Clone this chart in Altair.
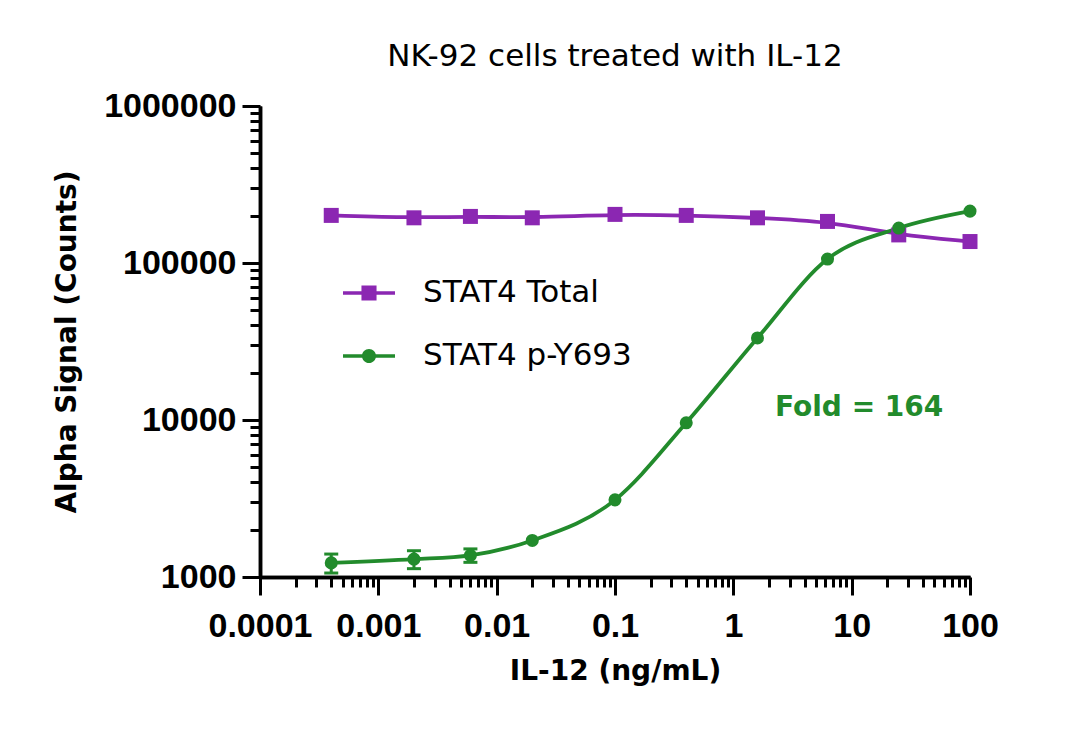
import altair as alt
import pandas as pd

# ---- data ----
conc = [0.0004, 0.002, 0.006, 0.02, 0.1, 0.4, 1.6, 6.25, 25, 100]
total = [201000, 194000, 198000, 194000, 204000, 201000, 194000, 184000, 151000, 137000]
phos = [1230, 1300, 1375, 1710, 3100, 9600, 33300, 106000, 167000, 214000]
phos_err = [170, 170, 135, 0, 0, 0, 0, 0, 0, 0]
series = ["STAT4 Total", "STAT4 p-Y693"]
colors = ["#8B27B2", "#228B2C"]
x_major = [1e-4, 1e-3, 1e-2, 1e-1, 1, 10, 100]
y_major = [1e3, 1e4, 1e5, 1e6]
fold_label = ["Fold = 164"]
fold_pos_x = [2.25]
fold_pos_y = [12000]

x_minor = [m * d for d in x_major[:-1] for m in range(2, 10)]
y_minor = [m * d for d in y_major[:-1] for m in range(2, 10)]

df_total = pd.DataFrame({"conc": conc, "signal": total, "series": series[0]})
df_phos = pd.DataFrame({"conc": conc, "signal": phos, "series": series[1],
                        "lo": [v - e for v, e in zip(phos, phos_err)],
                        "hi": [v + e for v, e in zip(phos, phos_err)],
                        "err": phos_err})
df_all = pd.concat([df_total, df_phos[["conc", "signal", "series"]]])
df_fold = pd.DataFrame({"x": fold_pos_x, "y": fold_pos_y, "t": fold_label})

TXT = "DejaVu Sans"
NUM = "Liberation Sans"
W = 710
H = 471

xs = alt.Scale(type="log", domain=[1e-4, 100], nice=False)
ys = alt.Scale(type="log", domain=[1e3, 1e6], nice=False)

x_major_axis = alt.Axis(orient="bottom", values=x_major, format="~g", tickSize=18, tickWidth=3,
                        tickColor="black", domainColor="black", domainWidth=3.5, grid=False,
                        labelFont=NUM, labelFontSize=34, labelFontWeight="bold", labelColor="black",
                        labelPadding=14, labelFlush=False, labelOverlap=False,
                        title="IL-12 (ng/mL)", titleFont=TXT, titleFontSize=28,
                        titleFontWeight="bold", titleColor="black", titlePadding=14)
x_minor_axis = alt.Axis(orient="bottom", values=x_minor, labels=False, tickSize=10, tickWidth=3,
                        tickColor="black", domainColor="black", domainWidth=3.5, grid=False,
                        title=None)
y_major_axis = alt.Axis(orient="left", values=y_major, format="d", tickSize=18, tickWidth=3,
                        tickColor="black", domainColor="black", domainWidth=3.5, grid=False,
                        labelFont=NUM, labelFontSize=34, labelFontWeight="bold", labelColor="black",
                        labelPadding=6, labelFlush=False, labelOverlap=False,
                        title="Alpha Signal (Counts)", titleFont=TXT, titleFontSize=28,
                        titleFontWeight="bold", titleColor="black", titlePadding=22)
y_minor_axis = alt.Axis(orient="left", values=y_minor, labels=False, tickSize=10, tickWidth=3,
                        tickColor="black", domainColor="black", domainWidth=3.5, grid=False,
                        title=None)

base_total = alt.Chart(df_total)
base_phos = alt.Chart(df_phos)

line_total = base_total.mark_line(interpolate="basis", strokeWidth=3.8, color=colors[0]).encode(
    x=alt.X("conc:Q", scale=xs, axis=x_major_axis),
    y=alt.Y("signal:Q", scale=ys, axis=y_major_axis),
)
line_phos = base_phos.mark_line(interpolate="monotone", strokeWidth=3.8, color=colors[1]).encode(
    x=alt.X("conc:Q", scale=xs, axis=x_minor_axis),
    y=alt.Y("signal:Q", scale=ys, axis=y_minor_axis),
)
pts_total = base_total.mark_point(shape="square", filled=True, size=225, opacity=1,
                                  color=colors[0]).encode(
    x=alt.X("conc:Q", scale=xs, axis=None),
    y=alt.Y("signal:Q", scale=ys, axis=None),
)
err_phos = base_phos.transform_filter("datum.err > 0").mark_errorbar(
    ticks={"size": 14, "thickness": 3, "color": colors[1], "opacity": 1},
    rule={"strokeWidth": 3, "color": colors[1], "opacity": 1}, color=colors[1], opacity=1).encode(
    x=alt.X("conc:Q", scale=xs, axis=None),
    y=alt.Y("lo:Q", scale=ys, axis=None),
    y2="hi:Q",
)
pts_phos = base_phos.mark_point(shape="circle", filled=True, size=170, opacity=1,
                                color=colors[1]).encode(
    x=alt.X("conc:Q", scale=xs, axis=None),
    y=alt.Y("signal:Q", scale=ys, axis=None),
)

sq_path = "M-1,-0.07H1V0.07H-1Z M-0.29,-0.29H0.29V0.29H-0.29Z"
ci_path = "M-1,-0.07H1V0.07H-1Z M-0.27,0A0.27,0.27 0 1,1 0.27,0A0.27,0.27 0 1,1 -0.27,0Z"
leg = alt.Legend(title=None, orient="none", legendX=83, legendY=161, symbolSize=2704,
                 symbolStrokeWidth=0, labelFont=TXT, labelFontSize=31, labelColor="black",
                 labelOffset=28, rowPadding=22, symbolOpacity=1, labelLimit=0)
legend_layer = alt.Chart(df_all).mark_point(filled=True, size=0, opacity=1).encode(
    x=alt.X("conc:Q", scale=xs, axis=None),
    y=alt.Y("signal:Q", scale=ys, axis=None),
    color=alt.Color("series:N", scale=alt.Scale(domain=series, range=colors), legend=leg),
    shape=alt.Shape("series:N", scale=alt.Scale(domain=series, range=[sq_path, ci_path]), legend=leg),
)

fold = alt.Chart(df_fold).mark_text(font=TXT, fontSize=28, fontWeight="bold", color=colors[1],
                                    align="left", baseline="middle").encode(
    x=alt.X("x:Q", scale=xs, axis=None),
    y=alt.Y("y:Q", scale=ys, axis=None),
    text="t:N",
)

chart = alt.layer(line_total, line_phos, pts_total, err_phos, pts_phos, legend_layer, fold).resolve_axis(
    x="independent", y="independent"
).properties(
    width=W, height=H,
    title=alt.TitleParams("NK-92 cells treated with IL-12", font=TXT, fontSize=31,
                          fontWeight="normal", color="black", anchor="middle", frame="group",
                          offset=16),
    padding={"left": 45, "top": 33, "right": 5, "bottom": 5},
).configure_view(stroke=None)

chart.save("out.html", embed_options={"renderer": "svg", "actions": False})
